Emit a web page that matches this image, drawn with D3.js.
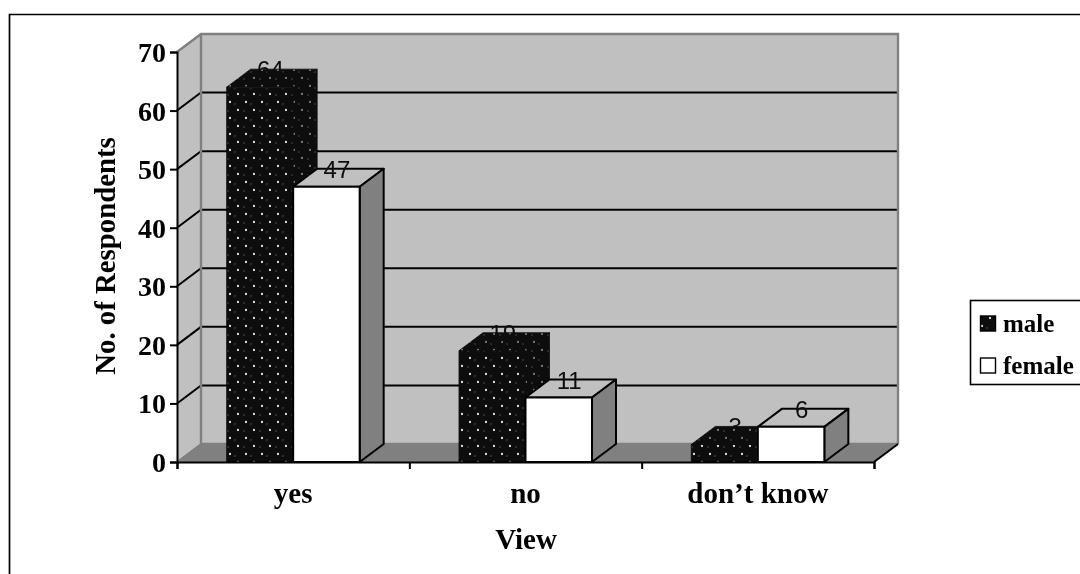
<!DOCTYPE html>
<html><head><meta charset="utf-8">
<script src="https://cdn.jsdelivr.net/npm/d3@7"></script>
<style>html,body{margin:0;padding:0;background:#fff;overflow:hidden}svg{display:block}</style>
</head><body><div id="c"></div>
<script>
const categories = ["yes", "no", "don\u2019t know"];
const seriesNames = ["male", "female"];
const male = [64, 19, 3];
const female = [47, 11, 6];
const yTicks = [0, 10, 20, 30, 40, 50, 60, 70];
const yTitle = "No. of Respondents";
const xTitle = "View";

const W = 1080, H = 574;
const serif = "'Liberation Serif','Times New Roman',serif";
const sans = "'Liberation Sans',Arial,sans-serif";
const svg = d3.select("#c").append("svg").attr("width", W).attr("height", H);
const defs = svg.append("defs");
function makePattern(id, dot, faint){
  const pat = defs.append("pattern").attr("id",id).attr("patternUnits","userSpaceOnUse")
    .attr("width",16).attr("height",16).attr("x",2).attr("y",2);
  pat.append("rect").attr("width",16).attr("height",16).attr("fill","#0a0a0a");
  [[4,4],[12,12]].forEach(p=>pat.append("circle").attr("cx",p[0]).attr("cy",p[1]).attr("r",1.15).attr("fill",dot));
  [[9,6],[2,13]].forEach(p=>pat.append("circle").attr("cx",p[0]).attr("cy",p[1]).attr("r",1.2).attr("fill",faint));
}
makePattern("dots","#e4e4e4","#2e2e2e");
makePattern("dotsDim","#7a7a7a","#2a2a2a");
defs.append("filter").attr("id","soft").append("feGaussianBlur").attr("stdDeviation",0.4);

const x0 = 177, x1 = 874, y0 = 462, yTop = 52, dx = 24, dy = -18;
const x = d3.scaleBand().domain(categories).range([x0, x1]).paddingInner(0.4275).paddingOuter(0.21375);
const xGroup = d3.scaleBand().domain(categories).range([x0, x1]);
const xs = d3.scaleBand().domain(seriesNames).range([0, x.bandwidth()]);
const y = d3.scaleLinear().domain([0, 70]).range([y0, yTop]);

const root = svg.append("g").attr("filter","url(#soft)");
// outer frame: only top and left edges fall inside the crop
root.append("path").attr("d",d3.line()([[9.5,H],[9.5,14.5],[W,14.5]]))
  .attr("fill","none").attr("stroke","#000").attr("stroke-width",1.7);

// walls & floor
const poly = pts => d3.line()(pts)+"Z";
const g = root.append("g");
g.append("path").attr("d",poly([[x0+dx,y(70)+dy],[x1+dx,y(70)+dy],[x1+dx,y0+dy],[x0+dx,y0+dy]])).attr("fill","#c0c0c0");
g.append("path").attr("d",poly([[x0,y(70)],[x0+dx,y(70)+dy],[x0+dx,y0+dy],[x0,y0]])).attr("fill","#c0c0c0");
g.append("path").attr("d",poly([[x0,y0],[x0+dx,y0+dy],[x1+dx,y0+dy],[x1,y0]])).attr("fill","#808080");

// gridlines
yTicks.filter(t=>t>0 && t<70).forEach(t=>{
  g.append("path").attr("d",d3.line()([[x0,y(t)],[x0+dx,y(t)+dy],[x1+dx,y(t)+dy]]))
    .attr("fill","none").attr("stroke","#000").attr("stroke-width",2);
});
// wall borders
g.append("path").attr("d",d3.line()([[x0,y(70)],[x0+dx,y(70)+dy],[x1+dx,y(70)+dy],[x1+dx,y0+dy]]))
  .attr("fill","none").attr("stroke","#808080").attr("stroke-width",2.4);
g.append("path").attr("d",d3.line()([[x0+dx,y(70)+dy],[x0+dx,y0+dy],[x1+dx,y0+dy]]))
  .attr("fill","none").attr("stroke","#808080").attr("stroke-width",2.4);
g.append("path").attr("d",d3.line()([[x0,y0],[x0+dx,y0+dy]]))
  .attr("fill","none").attr("stroke","#808080").attr("stroke-width",1.6);
g.append("path").attr("d",d3.line()([[x1+dx,y0+dy],[x1,y0]]))
  .attr("fill","none").attr("stroke","#000").attr("stroke-width",2);

// bars
const seriesVals = {male, female};
categories.forEach((c,i)=>{
  seriesNames.forEach(s=>{
    const v = seriesVals[s][i];
    const l = x(c)+xs(s), r = l+xs.bandwidth(), t = y(v);
    const isM = s==="male";
    const st = isM ? "#0a0a0a" : "#000";
    const sw = isM ? 0.8 : 2;
    const b = root.append("g").attr("class","bar");
    b.append("path").attr("d",poly([[l,t],[l+dx,t+dy],[r+dx,t+dy],[r,t]]))
      .attr("fill",isM?"url(#dotsDim)":"#c0c0c0").attr("stroke",st).attr("stroke-width",sw).attr("stroke-linejoin","round");
    b.append("path").attr("d",poly([[r,t],[r+dx,t+dy],[r+dx,y0+dy],[r,y0]]))
      .attr("fill",isM?"url(#dotsDim)":"#808080").attr("stroke",st).attr("stroke-width",sw).attr("stroke-linejoin","round");
    b.append("path").attr("d",poly([[l,t],[r,t],[r,y0],[l,y0]]))
      .attr("fill",isM?"url(#dots)":"#fff").attr("stroke",st).attr("stroke-width",sw).attr("stroke-linejoin","round");
  });
});

// data labels
categories.forEach((c,i)=>{
  seriesNames.forEach(s=>{
    const v = seriesVals[s][i];
    root.append("text").attr("x",x(c)+xs(s)+xs.bandwidth()/2+dx/2-1.5).attr("y",y(v)-9)
      .attr("text-anchor","middle").attr("font-family",sans).attr("font-size",24).attr("fill","#111").text(v);
  });
});

// axes
const yAxis = d3.axisLeft(y).tickValues(yTicks).tickSize(7).tickPadding(4).tickFormat(d3.format("d"));
const ya = root.append("g").attr("transform",`translate(${x0},0)`).call(yAxis);
ya.select(".domain").attr("stroke","#000").attr("stroke-width",2);
ya.selectAll(".tick line").attr("stroke","#000").attr("stroke-width",2);
ya.selectAll("text").attr("font-family",serif).attr("font-weight","bold").attr("font-size",28).attr("fill","#000").attr("dy","0.34em");

const xAxisScale = d3.scalePoint().domain(d3.range(categories.length+1)).range([x0,x1]);
const xa = root.append("g").attr("transform",`translate(0,${y0})`)
  .call(d3.axisBottom(xAxisScale).tickSize(7).tickFormat(""));
xa.select(".domain").attr("stroke","#000").attr("stroke-width",2);
xa.selectAll(".tick line").attr("stroke","#000").attr("stroke-width",2);

categories.forEach(c=>{
  root.append("text").attr("x",xGroup(c)+xGroup.bandwidth()/2).attr("y",503)
    .attr("text-anchor","middle").attr("font-family",serif).attr("font-weight","bold").attr("font-size",29).attr("fill","#000").text(c);
});
root.append("text").attr("x",526).attr("y",549).attr("text-anchor","middle")
  .attr("font-family",serif).attr("font-weight","bold").attr("font-size",29).attr("fill","#000").text(xTitle);
root.append("text").attr("transform","translate(115,256) rotate(-90)").attr("text-anchor","middle")
  .attr("font-family",serif).attr("font-weight","bold").attr("font-size",28.8).attr("fill","#000").text(yTitle);

// legend
const lg = root.append("g");
lg.append("rect").attr("x",970.5).attr("y",300.5).attr("width",112).attr("height",84)
  .attr("fill","#fff").attr("stroke","#000").attr("stroke-width",1.6);
const legY = d3.scalePoint().domain(seriesNames).range([324,366]);
seriesNames.forEach(s=>{
  lg.append("rect").attr("x",980.5).attr("y",legY(s)-8).attr("width",15).attr("height",15)
    .attr("fill",s==="male"?"url(#dots)":"#fff").attr("stroke","#000").attr("stroke-width",1.4);
  lg.append("text").attr("x",1003).attr("y",legY(s)+8).attr("font-family",serif).attr("font-weight","bold")
    .attr("font-size",25).attr("fill","#000").text(s);
});
</script></body></html>
